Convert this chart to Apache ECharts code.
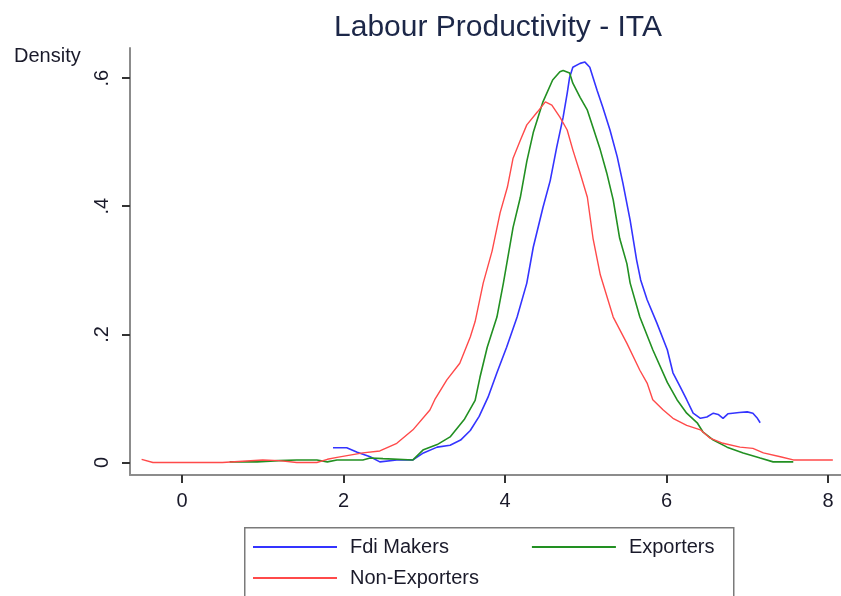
<!DOCTYPE html>
<html>
<head>
<meta charset="utf-8">
<script src="https://cdn.jsdelivr.net/npm/echarts@6/dist/echarts.min.js"></script>
<style>
html,body{margin:0;padding:0;background:#fff;}
#chart{width:841px;height:596px;}
</style>
</head>
<body>
<div id="chart"></div>
<script>
// ---- data (x = labour productivity, y = density) ----
var fdiMakers = [
  [1.87,0.023],[2.04,0.023],[2.17,0.016],[2.33,0.009],[2.45,0.001],[2.66,0.004],[2.86,0.004],
  [2.99,0.015],[3.16,0.024],[3.32,0.027],[3.45,0.035],[3.57,0.050],[3.68,0.072],[3.79,0.102],
  [3.90,0.140],[4.02,0.180],[4.15,0.227],[4.27,0.280],[4.35,0.336],[4.47,0.398],[4.56,0.440],
  [4.64,0.492],[4.72,0.539],[4.77,0.576],[4.80,0.601],[4.84,0.617],[4.93,0.623],[4.99,0.625],
  [5.05,0.617],[5.09,0.601],[5.14,0.581],[5.21,0.555],[5.30,0.519],[5.39,0.477],[5.46,0.436],
  [5.55,0.378],[5.63,0.316],[5.68,0.285],[5.76,0.254],[5.88,0.218],[6.01,0.176],[6.08,0.140],
  [6.17,0.118],[6.25,0.098],[6.33,0.077],[6.42,0.069],[6.50,0.071],[6.58,0.077],[6.64,0.075],
  [6.70,0.069],[6.76,0.076],[6.82,0.077],[6.90,0.078],[7.00,0.079],[7.07,0.077],[7.12,0.070],[7.16,0.062]
];
var exporters = [
  [0.59,0.001],[0.93,0.001],[1.20,0.003],[1.42,0.004],[1.67,0.004],[1.80,0.001],[1.92,0.004],
  [2.24,0.004],[2.33,0.007],[2.49,0.006],[2.86,0.004],[2.99,0.020],[3.16,0.028],[3.32,0.040],
  [3.50,0.068],[3.63,0.097],[3.69,0.133],[3.78,0.180],[3.90,0.227],[3.98,0.280],[4.10,0.367],
  [4.19,0.414],[4.27,0.470],[4.35,0.515],[4.47,0.563],[4.59,0.597],[4.68,0.610],[4.72,0.612],
  [4.80,0.608],[4.84,0.592],[4.93,0.570],[5.02,0.550],[5.09,0.523],[5.18,0.488],[5.26,0.452],
  [5.34,0.410],[5.42,0.350],[5.51,0.310],[5.55,0.280],[5.67,0.227],[5.83,0.176],[6.01,0.125],
  [6.13,0.098],[6.25,0.077],[6.38,0.062],[6.45,0.048],[6.58,0.035],[6.75,0.024],[6.95,0.015],
  [7.16,0.007],[7.32,0.001],[7.57,0.001]
];
var nonExporters = [
  [-0.50,0.005],[-0.36,0.000],[0.50,0.000],[1.00,0.004],[1.20,0.003],[1.42,0.000],[1.67,0.000],
  [1.80,0.005],[1.92,0.008],[2.24,0.015],[2.45,0.018],[2.66,0.030],[2.86,0.051],[3.07,0.082],
  [3.13,0.098],[3.28,0.129],[3.44,0.155],[3.57,0.196],[3.63,0.220],[3.73,0.280],[3.84,0.330],
  [3.94,0.390],[4.03,0.430],[4.10,0.475],[4.19,0.503],[4.27,0.527],[4.40,0.547],[4.50,0.563],
  [4.58,0.558],[4.68,0.539],[4.77,0.519],[4.84,0.488],[4.93,0.452],[5.02,0.414],[5.09,0.350],
  [5.18,0.293],[5.34,0.227],[5.51,0.186],[5.67,0.144],[5.76,0.124],[5.83,0.098],[5.96,0.082],
  [6.08,0.069],[6.25,0.058],[6.42,0.051],[6.54,0.038],[6.70,0.030],[6.91,0.024],[7.07,0.022],
  [7.20,0.015],[7.41,0.009],[7.57,0.004],[7.81,0.004],[8.06,0.004]
];
var xTicks = [0, 2, 4, 6, 8];
var yTicks = [0, 0.2, 0.4, 0.6];
var seriesNames = ['Fdi Makers', 'Exporters', 'Non-Exporters'];

var FONT = "'Liberation Sans', Arial, sans-serif";
var chart = echarts.init(document.getElementById('chart'), null, {renderer: 'canvas'});
var option = {
  animation: false,
  backgroundColor: '#ffffff',
  title: {
    text: 'Labour Productivity - ITA',
    left: 493, top: 8, textAlign: 'center',
    textStyle: {fontFamily: FONT, fontSize: 30, fontWeight: 'normal', color: '#1c2748'}
  },
  grid: {left: 130, right: 0, top: 48, bottom: 121, containLabel: false},
  xAxis: {
    type: 'value', min: -0.644, max: 8.161,
    axisLine: {show: true, onZero: false, lineStyle: {color: '#8c8c8c', width: 2}},
    axisTick: {show: true, customValues: xTicks, length: 8, lineStyle: {color: '#333', width: 2}},
    axisLabel: {customValues: xTicks, margin: 16, fontFamily: FONT, fontSize: 20, color: '#1a1a2a'},
    splitLine: {show: false}
  },
  yAxis: {
    type: 'value', min: -0.0195, max: 0.647,
    axisLine: {show: true, onZero: false, lineStyle: {color: '#8c8c8c', width: 2}},
    axisTick: {show: true, customValues: yTicks, length: 8, lineStyle: {color: '#333', width: 2}},
    axisLabel: {
      customValues: yTicks, rotate: 90, margin: 18, fontFamily: FONT, fontSize: 20, color: '#1a1a2a',
      formatter: function (v) { return v === 0 ? '0' : String(Math.round(v * 10) / 10).replace(/^0/, ''); }
    },
    splitLine: {show: false}
  },
  legend: [
    {
      data: ['Fdi Makers', 'Exporters'], orient: 'horizontal', left: 253, top: 537, padding: 0,
      icon: 'rect', itemWidth: 84, itemHeight: 2, itemGap: 83,
      textStyle: {fontFamily: FONT, fontSize: 20, color: '#1a1a2a', padding: [0, 0, 0, 8]}
    },
    {
      data: ['Non-Exporters'], orient: 'horizontal', left: 253, top: 568, padding: 0,
      icon: 'rect', itemWidth: 84, itemHeight: 2,
      textStyle: {fontFamily: FONT, fontSize: 20, color: '#1a1a2a', padding: [0, 0, 0, 8]}
    }
  ],
  graphic: [
    {type: 'rect', left: 244, top: 527, z: -1,
     shape: {width: 489, height: 80},
     style: {fill: '#fff', stroke: '#7a7a7a', lineWidth: 1.5}},
    {type: 'text', left: 14, top: 46,
     style: {text: 'Density', font: '20px ' + FONT, fill: '#1a1a2a'}}
  ],
  series: [
    {name: seriesNames[0], type: 'line', data: fdiMakers, showSymbol: false, symbol: 'none',
     lineStyle: {color: '#3434ff', width: 1.6}, itemStyle: {color: '#3434ff'}},
    {name: seriesNames[1], type: 'line', data: exporters, showSymbol: false, symbol: 'none',
     lineStyle: {color: '#229022', width: 1.6}, itemStyle: {color: '#229022'}},
    {name: seriesNames[2], type: 'line', data: nonExporters, showSymbol: false, symbol: 'none',
     lineStyle: {color: '#ff4a4a', width: 1.4}, itemStyle: {color: '#ff4a4a'}}
  ]
};
chart.setOption(option);
</script>
</body>
</html>
